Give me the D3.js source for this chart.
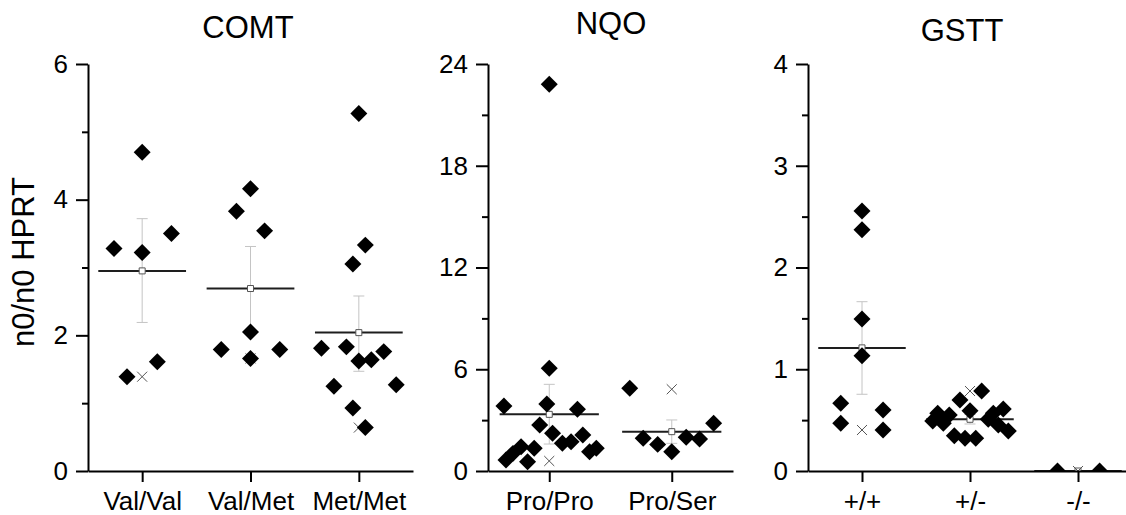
<!DOCTYPE html>
<html>
<head>
<meta charset="utf-8">
<script src="https://cdn.jsdelivr.net/npm/d3@7"></script>
<style>
  body { margin: 0; background: #fff; }
  text { font-family: Arial, "Liberation Sans", sans-serif; fill: #000; }
</style>
</head>
<body>
<script>
// ---- data ----
// each point: [value, horizontal jitter as a fraction of the category step]
const comtCats = ["Val/Val", "Val/Met", "Met/Met"];
const comtValVal = [[4.70, 0], [3.28, -0.26], [3.22, 0], [3.50, 0.27], [1.39, -0.14], [1.61, 0.14]];
const comtValMet = [[4.16, 0], [3.83, -0.13], [3.54, 0.13], [2.05, 0], [1.79, -0.27], [1.66, 0], [1.79, 0.27]];
const comtMetMet = [[5.27, 0], [3.33, 0.06], [3.05, -0.055], [1.81, -0.345], [1.83, -0.115], [1.62, 0],
  [1.64, 0.115], [1.76, 0.23], [1.25, -0.23], [1.27, 0.345], [0.93, -0.055], [0.64, 0.06]];
const comtMeans = [2.95, 2.69, 2.04];
const comtErr = [[2.19, 3.72], [2.07, 3.31], [1.47, 2.58]];
const comtCross = [1.39, 1.66, 0.64];

const nqoCats = ["Pro/Pro", "Pro/Ser"];
const nqoProPro = [[22.8, 0], [6.06, 0], [3.83, -0.37], [3.95, -0.02], [3.64, 0.23], [2.71, -0.078],
  [2.22, 0.027], [1.63, 0.107], [1.73, 0.178], [2.12, 0.274], [1.14, 0.329], [1.34, 0.384],
  [0.65, -0.353], [1.04, -0.296], [1.43, -0.23], [1.34, -0.123], [0.55, -0.177]];
const nqoProSer = [[4.88, -0.343], [2.81, 0.342], [1.93, -0.233], [1.57, -0.115], [1.14, 0], [1.99, 0.118], [1.89, 0.227]];
const nqoMeans = [3.34, 2.32];
const nqoErr = [[1.59, 5.11], [1.63, 3.01]];
const nqoCross = [0.59, 4.82];

const gsttCats = ["+/+", "+/-", "-/-"];
const gsttPP = [[2.555, 0], [2.37, 0], [1.494, 0], [1.133, 0], [0.665, -0.197], [0.469, -0.197], [0.60, 0.195], [0.403, 0.195]];
const gsttPM = [[0.491, -0.345], [0.567, -0.299], [0.469, -0.247], [0.55, -0.192], [0.347, -0.145],
  [0.321, -0.046], [0.321, 0.053], [0.698, -0.093], [0.593, 0], [0.786, 0.108], [0.508, 0.169],
  [0.567, 0.216], [0.609, 0.308], [0.452, 0.262], [0.393, 0.355]];
const gsttMM = [[0, -0.19], [0, 0.2]];
const gsttMeans = [1.21, 0.508, 0];
const gsttErr = [[0.754, 1.664], [0.462, 0.555], [0, 0]];
const gsttCross = [0.403, 0.786, 0];

const yLabel = "n0/n0 HPRT";

// ---- layout ----
const W = 1126, H = 515;
const plotTop = 64, plotBottom = 471;

const panels = [
  { title: "COMT", tx: 248, ty: 38, x0: 88, x1: 413, cats: comtCats, groups: [comtValVal, comtValMet, comtMetMet],
    means: comtMeans, err: comtErr, cross: comtCross, ymax: 6, major: [0, 2, 4, 6], minor: [1, 3, 5] },
  { title: "NQO", tx: 611, ty: 34, x0: 488, x1: 733, cats: nqoCats, groups: [nqoProPro, nqoProSer],
    means: nqoMeans, err: nqoErr, cross: nqoCross, ymax: 24, major: [0, 6, 12, 18, 24], minor: [3, 9, 15, 21] },
  { title: "GSTT", tx: 962, ty: 41, x0: 808, x1: 1132, cats: gsttCats, groups: [gsttPP, gsttPM, gsttMM],
    means: gsttMeans, err: gsttErr, cross: gsttCross, ymax: 4, major: [0, 1, 2, 3, 4], minor: [0.5, 1.5, 2.5, 3.5] }
];

const svg = d3.select("body").append("svg").attr("width", W).attr("height", H);

const diamond = d3.symbol(d3.symbolSquare, 144)();
const meanBox = d3.symbol(d3.symbolSquare, 36)();
const cross = d3.symbol(d3.symbolX, 67)();

panels.forEach((p, pi) => {
  const x = d3.scalePoint().domain(p.cats).range([p.x0, p.x1]).padding(0.5);
  const y = d3.scaleLinear().domain([0, p.ymax]).range([plotBottom, plotTop]);
  const step = x.step();

  const clipId = "clip" + pi;
  svg.append("clipPath").attr("id", clipId)
    .append("rect").attr("x", p.x0).attr("y", 40).attr("width", p.x1 - p.x0).attr("height", plotBottom - 40);

  const g = svg.append("g").attr("clip-path", `url(#${clipId})`);

  // error bars
  p.cats.forEach((c, i) => {
    const cx = x(c), lo = y(p.err[i][0]), hi = y(p.err[i][1]);
    const eb = g.append("g").attr("stroke", "#c4c4c4").attr("stroke-width", 1);
    eb.append("line").attr("x1", cx).attr("x2", cx).attr("y1", lo).attr("y2", hi);
    eb.append("line").attr("x1", cx - 5.5).attr("x2", cx + 5.5).attr("y1", lo).attr("y2", lo);
    eb.append("line").attr("x1", cx - 5.5).attr("x2", cx + 5.5).attr("y1", hi).attr("y2", hi);
  });

  // mean lines
  g.selectAll(".mean").data(p.cats).join("line")
    .attr("x1", c => x(c) - 0.405 * step).attr("x2", c => x(c) + 0.405 * step)
    .attr("y1", (c, i) => y(p.means[i])).attr("y2", (c, i) => y(p.means[i]))
    .attr("stroke", "#1e1e1e").attr("stroke-width", 2);

  // mean markers
  g.selectAll(".mbox").data(p.cats).join("path")
    .attr("d", meanBox)
    .attr("transform", (c, i) => `translate(${x(c)},${y(p.means[i])})`)
    .attr("fill", "#fff").attr("stroke", "#555").attr("stroke-width", 1);

  // x markers
  g.selectAll(".cross").data(p.cats).join("path")
    .attr("d", cross)
    .attr("transform", (c, i) => `translate(${x(c)},${y(p.cross[i])})`)
    .attr("fill", "none").attr("stroke", "#555").attr("stroke-width", 1);

  // data points
  p.groups.forEach((grp, i) => {
    g.selectAll(null).data(grp).join("path")
      .attr("d", diamond)
      .attr("transform", d => `translate(${x(p.cats[i]) + d[1] * step},${y(d[0])}) rotate(45)`)
      .attr("fill", "#000");
  });

  // y axis
  const ya = svg.append("g").attr("transform", `translate(${p.x0},0)`)
    .call(d3.axisLeft(y).tickValues(p.major).tickFormat(d3.format("d"))
      .tickSize(12).tickSizeOuter(0).tickPadding(8));
  svg.append("g").attr("transform", `translate(${p.x0},0)`)
    .call(d3.axisLeft(y).tickValues(p.minor).tickSize(6).tickFormat(""))
    .call(a => a.select(".domain").remove());

  // x axis
  const xa = svg.append("g").attr("transform", `translate(0,${plotBottom})`)
    .call(d3.axisBottom(x).tickSize(11).tickSizeOuter(0).tickPadding(10));

  svg.selectAll(".tick line, .domain").attr("stroke", "#000").attr("stroke-width", 2);
  ya.selectAll("text").attr("font-size", 26);
  xa.selectAll("text").attr("font-size", 26);

  svg.append("text").attr("x", p.tx).attr("y", p.ty).attr("text-anchor", "middle")
    .attr("font-size", 31).text(p.title);
});

svg.append("text")
  .attr("transform", "translate(34,262) rotate(-90)")
  .attr("text-anchor", "middle").attr("font-size", 31).text(yLabel);
</script>
</body>
</html>
